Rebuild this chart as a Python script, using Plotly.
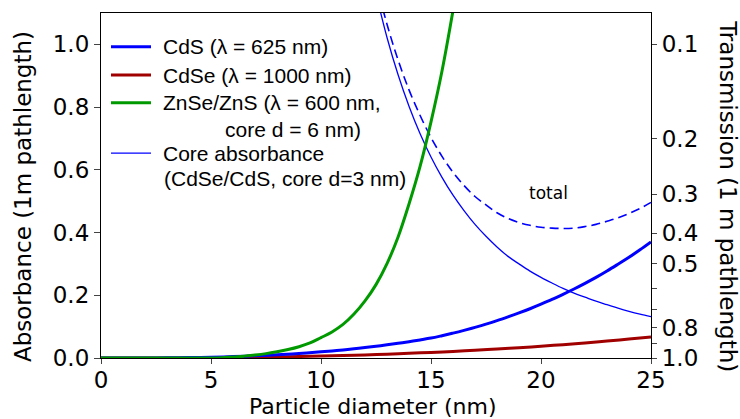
import numpy as np
import plotly.graph_objects as go

# ---- data (absorbance per 1 m pathlength) ----
d_cds = [0, 1, 2, 3, 4, 5, 6, 7, 8, 9, 10, 10.5, 11, 11.5, 12, 12.5, 13, 13.5, 14, 14.5, 15,
         15.5, 16, 16.5, 17, 17.5, 18, 18.5, 19, 19.5, 20, 20.5, 21, 21.5, 22, 22.5, 23, 23.5,
         24, 24.5, 25]
a_cds = [0, 0, 0.0002, 0.0006, 0.0014, 0.0026, 0.0045, 0.0070, 0.0103, 0.0144, 0.0196, 0.0226,
         0.0258, 0.0294, 0.0332, 0.0374, 0.0419, 0.0468, 0.052, 0.0576, 0.0635, 0.0711, 0.0793,
         0.0882, 0.0978, 0.108, 0.119, 0.131, 0.1436, 0.157, 0.1714, 0.1866, 0.203, 0.220, 0.238,
         0.257, 0.2775, 0.299, 0.321, 0.345, 0.370]

d_cdse = [0, 1, 2, 3, 4, 5, 6, 7, 8, 9, 10, 11, 12, 13, 14, 15, 16, 17, 18, 19, 20, 21, 22,
          23, 24, 25]
a_cdse = [0, 0, 0, 0.0002, 0.0005, 0.0011, 0.0016, 0.0024, 0.0035, 0.0047, 0.0062, 0.0079,
          0.0099, 0.0122, 0.0148, 0.0178, 0.0210, 0.0246, 0.0285, 0.0328, 0.0375, 0.0426,
          0.0481, 0.0539, 0.0603, 0.067]

d_znse = [0, 1, 2, 3, 4, 5, 5.5, 6, 6.5, 7, 7.5, 8, 8.5, 9, 9.5, 10, 10.5, 11, 11.5, 12, 12.5,
          13, 13.5, 14, 14.5, 15, 15.5, 16]
a_znse = [0, 0, 0, 0, 0, 0, 0.001, 0.003, 0.006, 0.0095, 0.014, 0.020, 0.027, 0.036, 0.048,
          0.065, 0.083, 0.107, 0.140, 0.182, 0.234, 0.301, 0.385, 0.491, 0.610, 0.753, 0.915,
          1.108]

d_core = [12.5, 13, 13.5, 14, 14.5, 15, 15.5, 16, 16.5, 17, 17.5, 18, 18.5, 19, 19.5, 20,
          20.5, 21, 21.5, 22, 22.5, 23, 23.5, 24, 24.5, 25]
a_core = [1.162, 1.022, 0.904, 0.803, 0.716, 0.641, 0.576, 0.519, 0.470, 0.426, 0.388, 0.354,
          0.324, 0.300, 0.277, 0.257, 0.239, 0.222, 0.207, 0.194, 0.181, 0.170, 0.159, 0.149,
          0.140, 0.132]

d_total = [12.5, 13, 13.5, 14, 14.5, 15, 15.5, 16, 16.5, 17, 17.5, 18, 18.5, 19, 19.5, 20,
           20.5, 21, 21.5, 22, 22.5, 23, 23.5, 24, 24.5, 25]
a_total = [1.199, 1.064, 0.951, 0.855, 0.774, 0.703, 0.643, 0.592, 0.550, 0.515, 0.488, 0.463,
           0.445, 0.432, 0.423, 0.417, 0.414, 0.413, 0.414, 0.419, 0.426, 0.436, 0.447, 0.461,
           0.477, 0.496]

x_ticks = [0, 5, 10, 15, 20, 25]
y_ticks = [0.0, 0.2, 0.4, 0.6, 0.8, 1.0]
trans_ticks = [0.1, 0.2, 0.3, 0.4, 0.5, 0.6, 0.7, 0.8, 0.9, 1.0]
trans_labels = ["0.1", "0.2", "0.3", "0.4", "0.5", "", "", "0.8", "", "1.0"]

legend_names = ["CdS (λ = 625 nm)", "CdSe (λ = 1000 nm)", "ZnSe/ZnS (λ = 600 nm,",
                "core d = 6 nm)", "Core absorbance", "(CdSe/CdS, core d=3 nm)"]

BLUE = "#0000FF"
RED = "#A00000"
GREEN = "#009A00"
TICKFONT = dict(family="DejaVu Sans", size=23, color="black")
TITLEFONT = dict(family="DejaVu Sans", size=23, color="black")
LEGFONT = dict(family="Liberation Sans", size=21, color="black")

fig = go.Figure()
fig.add_trace(go.Scatter(x=d_core, y=a_core, mode="lines",
                         line=dict(color=BLUE, width=1.3, shape="spline"),
                         name=legend_names[4] + " " + legend_names[5], showlegend=False))
fig.add_trace(go.Scatter(x=d_total, y=a_total, mode="lines",
                         line=dict(color=BLUE, width=1.6, dash="9px,5px", shape="spline"),
                         name="total", showlegend=False))
fig.add_trace(go.Scatter(x=d_cdse, y=a_cdse, mode="lines",
                         line=dict(color=RED, width=3, shape="spline"),
                         name=legend_names[1], showlegend=False))
fig.add_trace(go.Scatter(x=d_cds, y=a_cds, mode="lines",
                         line=dict(color=BLUE, width=3, shape="spline"),
                         name=legend_names[0], showlegend=False))
fig.add_trace(go.Scatter(x=d_znse, y=a_znse, mode="lines",
                         line=dict(color=GREEN, width=3, shape="spline"),
                         name=legend_names[2] + " " + legend_names[3], showlegend=False))
# invisible trace to activate the right (transmission) axis
fig.add_trace(go.Scatter(x=[0], y=[0], yaxis="y2", mode="markers", marker=dict(opacity=0),
                         showlegend=False, hoverinfo="skip"))

# ---- legend (drawn in paper coordinates) ----
PL, PW, PB, PH = 101, 550, 357.7, 344.7   # plot area in pixels


def px(x):
    return (x - PL) / PW


def py(y):
    return (PB - y) / PH


row_y = [46.7, 75, 102.7, 129, 153, 178]
text_x = [162, 162, 162, 224, 162, 163]
sample_rows = [(0, BLUE, 3), (1, RED, 3), (2, GREEN, 3), (4, BLUE, 1.3)]

shapes = []
for r, col, w in sample_rows:
    shapes.append(dict(type="line", xref="paper", yref="paper", x0=px(111), x1=px(151),
                       y0=py(row_y[r]), y1=py(row_y[r]), line=dict(color=col, width=w)))

annotations = []
for name, yy, xx in zip(legend_names, row_y, text_x):
    annotations.append(dict(text=name, x=px(xx), y=py(yy), xref="paper", yref="paper",
                            xanchor="left", yanchor="middle", showarrow=False, font=LEGFONT,
                            borderpad=0))

annotations += [
    dict(text="Absorbance (1m pathlength)", x=-0.142, y=0.469, xref="paper", yref="paper",
         textangle=-90, showarrow=False, font=TITLEFONT, xanchor="center", yanchor="middle"),
    dict(text="Transmission (1 m pathlength)", x=1.14, y=py(196), xref="paper", yref="paper",
         textangle=90, showarrow=False, font=dict(family="DejaVu Sans", size=23, color="black"),
         xanchor="center", yanchor="middle"),
    dict(text="Particle diameter (nm)", x=0.4945, y=py(406.5), xref="paper", yref="paper",
         showarrow=False, font=dict(family="DejaVu Sans", size=22, color="black"),
         xanchor="center", yanchor="middle"),
    dict(text="total", x=20.36, y=0.527, xref="x", yref="y", showarrow=False,
         font=dict(family="DejaVu Sans", size=17, color="black")),
]

fig.update_layout(
    width=740, height=419,
    margin=dict(l=101, r=89, t=13, b=61),
    plot_bgcolor="white", paper_bgcolor="white",
    showlegend=False,
    xaxis=dict(range=[0, 25], tickvals=x_ticks, ticks="outside", ticklen=5, tickwidth=1.2,
               showline=True, linecolor="black", linewidth=1.2, mirror=True,
               showgrid=False, zeroline=False, tickfont=TICKFONT, ticklabelstandoff=-4),
    yaxis=dict(range=[0, 1.1], tickvals=y_ticks, ticktext=[f"{v:.1f}" for v in y_ticks],
               ticks="outside", ticklen=6, tickwidth=1.2,
               showline=True, linecolor="black", linewidth=1.2, mirror=True,
               showgrid=False, zeroline=False, tickfont=TICKFONT),
    yaxis2=dict(overlaying="y", side="right", range=[0, 1.1],
                tickvals=[-np.log10(t) for t in trans_ticks], ticktext=trans_labels,
                ticks="outside", ticklen=5, tickwidth=1.2, showline=True, linecolor="black",
                linewidth=1.2, showgrid=False, zeroline=False, tickfont=TICKFONT),
    shapes=shapes,
    annotations=annotations,
)

fig.write_html("out.html")
